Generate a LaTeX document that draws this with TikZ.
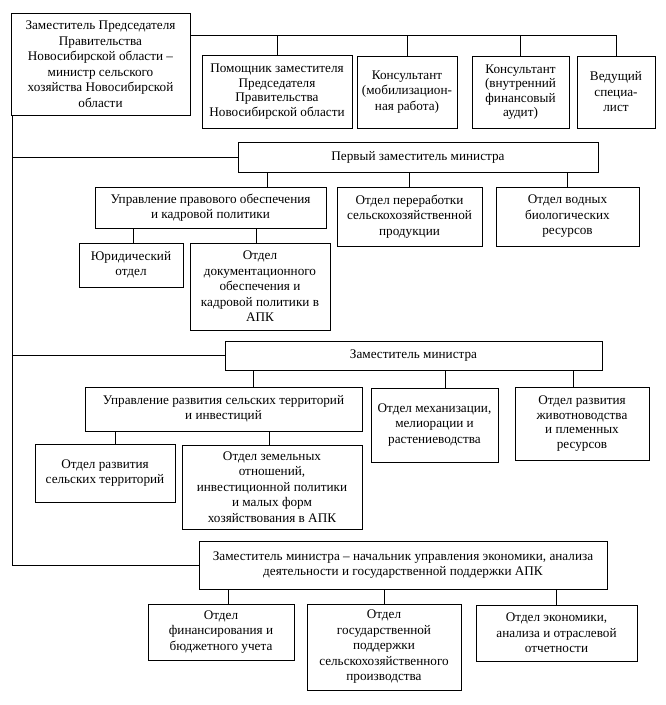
\documentclass[tikz,border=0pt]{standalone}
\usepackage{fontspec}
\setmainfont{Liberation Serif}
\begin{document}
\begin{tikzpicture}[x=1pt,y=-1pt,
  box/.style={draw, line width=0.8pt, align=center, inner sep=0pt, font=\fontsize{13.2}{15.5}\selectfont},
  tight/.style={font=\fontsize{13.2}{14.5}\selectfont},
  ln/.style={line width=0.8pt}]
\useasboundingbox (0,0) rectangle (665,705);
% top level
\node[box, minimum width=179, minimum height=102] (b1) at (100.5,64) {Заместитель Председателя\\Правительства\\Новосибирской области –\\министр сельского\\хозяйства Новосибирской\\области};
\node[box, tight, minimum width=150, minimum height=73] (pom) at (277,91.5) {Помощник заместителя\\Председателя\\Правительства\\Новосибирской области};
\node[box, minimum width=100, minimum height=72] (kmob) at (407,92) {Консультант\\(мобилизацион-\\ная работа)};
\node[box, tight, minimum width=97, minimum height=72] (kvn) at (520.5,92) {Консультант\\(внутренний\\финансовый\\аудит)};
\node[box, minimum width=78, minimum height=72] (ved) at (616,92) {Ведущий\\специа-\\лист};
% first deputy
\node[box, minimum width=360, minimum height=30] (pz) at (418,157) {Первый заместитель министра};
\node[box, tight, minimum width=231, minimum height=41] (upr1) at (210.5,207.5) {Управление правового обеспечения\\и кадровой политики};
\node[box, minimum width=145, minimum height=59] (per) at (409.5,216.5) {Отдел переработки\\сельскохозяйственной\\продукции};
\node[box, minimum width=143, minimum height=59] (vod) at (567.5,216.5) {Отдел водных\\биологических\\ресурсов};
\node[box, minimum width=104, minimum height=44] (yur) at (131,265) {Юридический\\отдел};
\node[box, minimum width=140, minimum height=87] (doc) at (260,286.5) {Отдел\\документационного\\обеспечения и\\кадровой политики в\\АПК};
% deputy
\node[box, minimum width=377, minimum height=29] (zm) at (413.5,355.5) {Заместитель министра};
\node[box, tight, minimum width=277, minimum height=44] (upr2) at (223.5,409) {Управление развития сельских территорий\\и инвестиций};
\node[box, minimum width=127, minimum height=74] (mex) at (434.5,425) {Отдел механизации,\\мелиорации и\\растениеводства};
\node[box, tight, minimum width=134, minimum height=73] (jiv) at (582,423.5) {Отдел развития\\животноводства\\и племенных\\ресурсов};
\node[box, minimum width=140, minimum height=58] (sel) at (105,473) {Отдел развития\\сельских территорий};
\node[box, minimum width=180, minimum height=84] (zem) at (272,487) {Отдел земельных\\отношений,\\инвестиционной политики\\и малых форм\\хозяйствования в АПК};
% deputy - economy
\node[box, minimum width=408, minimum height=48] (zn) at (403,565) {Заместитель министра – начальник управления экономики, анализа\\деятельности и государственной поддержки АПК};
\node[box, minimum width=146, minimum height=56] (fin) at (221,632) {Отдел\\финансирования и\\бюджетного учета};
\node[box, minimum width=154, minimum height=86] (gos) at (384,647) {Отдел\\государственной\\поддержки\\сельскохозяйственного\\производства};
\node[box, minimum width=161, minimum height=56] (eko) at (556.5,633) {Отдел экономики,\\анализа и отраслевой\\отчетности};
% connectors
\coordinate (bus) at (0,35);
\coordinate (sp) at (12,0);
\draw[ln] (b1.east |- bus) -- (ved.north |- bus);
\foreach \n in {pom,kmob,kvn,ved} \draw[ln] (\n.north) -- (\n.north |- bus);
\draw[ln] (b1.south -| sp) -- (zn.west -| sp) -- (zn.west);
\draw[ln] (pz.west -| sp) -- (pz.west);
\draw[ln] (zm.west -| sp) -- (zm.west);
\coordinate (c1) at (267,0);
\draw[ln] (pz.south -| c1) -- (upr1.north -| c1);
\draw[ln] (pz.south -| per.north) -- (per.north);
\draw[ln] (pz.south -| vod.north) -- (vod.north);
\coordinate (c2) at (133,0);
\coordinate (c3) at (256,0);
\draw[ln] (upr1.south -| c2) -- (yur.north -| c2);
\draw[ln] (upr1.south -| c3) -- (doc.north -| c3);
\coordinate (c4) at (253,0);
\coordinate (c5) at (445,0);
\coordinate (c6) at (573,0);
\draw[ln] (zm.south -| c4) -- (upr2.north -| c4);
\draw[ln] (zm.south -| c5) -- (mex.north -| c5);
\draw[ln] (zm.south -| c6) -- (jiv.north -| c6);
\coordinate (c7) at (115,0);
\coordinate (c8) at (269,0);
\draw[ln] (upr2.south -| c7) -- (sel.north -| c7);
\draw[ln] (upr2.south -| c8) -- (zem.north -| c8);
\coordinate (c9) at (228,0);
\draw[ln] (zn.south -| c9) -- (fin.north -| c9);
\draw[ln] (zn.south -| gos.north) -- (gos.north);
\draw[ln] (zn.south -| eko.north) -- (eko.north);
\end{tikzpicture}
\end{document}
